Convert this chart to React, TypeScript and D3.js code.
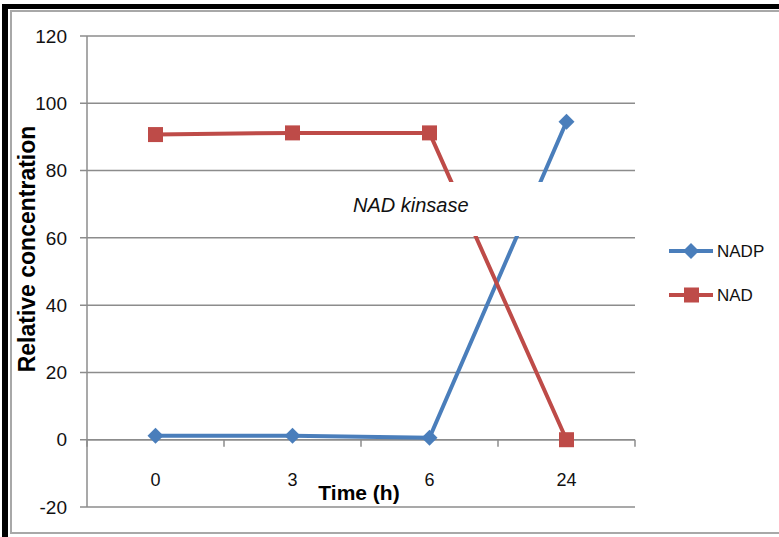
import React from "react";
import * as d3 from "d3";

const categories = ["0", "3", "6", "24"];
const nadpValues = [1.2, 1.2, 0.6, 94.5];
const nadValues = [90.7, 91.2, 91.2, 0];
const yTicks = [-20, 0, 20, 40, 60, 80, 100, 120];
const seriesNames = ["NADP", "NAD"];

const W = 779;
const H = 537;
const plot = { left: 87, right: 635, top: 36, bottom: 507 };
const BLUE = "#4A7EBB";
const RED = "#BE4B48";
const GRID = "#8c8c8c";
const FONT = "'Liberation Sans', Arial, sans-serif";

export default function App() {
  const x = d3
    .scaleBand<string>()
    .domain(categories)
    .range([plot.left, plot.right])
    .paddingInner(0)
    .paddingOuter(0);
  const y = d3.scaleLinear().domain([-20, 120]).range([plot.bottom, plot.top]);
  const cx = (c: string) => (x(c) ?? 0) + x.bandwidth() / 2;

  const line = d3
    .line<[string, number]>()
    .x((d) => cx(d[0]))
    .y((d) => y(d[1]));

  const nadpPts: [string, number][] = categories.map((c, i) => [c, nadpValues[i]]);
  const nadPts: [string, number][] = categories.map((c, i) => [c, nadValues[i]]);

  const diamond = (px: number, py: number, r: number) =>
    `M${px},${py - r}L${px + r},${py}L${px},${py + r}L${px - r},${py}Z`;

  const tickXs = [...categories.map((c) => x(c) ?? 0), plot.right];

  const legendY = [251, 295];

  return (
    <div style={{ position: "fixed", left: 0, top: 0 }}>
      <svg width={W} height={H} style={{ display: "block", background: "#fff" }}>
        {/* frame */}
        <rect x={0} y={0} width={W} height={H} fill="#fff" />
        <rect x={2} y={4} width={6} height={H} fill="#000" />
        <rect x={2} y={4} width={W} height={5} fill="#000" />
        <rect x={11} y={11} width={W} height={522} fill="none" stroke="#a8a8a8" strokeWidth={2} />

        {/* horizontal gridlines and y ticks */}
        {yTicks.map((t) => (
          <g key={t}>
            <line x1={80} x2={plot.right} y1={y(t)} y2={y(t)} stroke={GRID} strokeWidth={1.5} />
            <text
              x={67}
              y={y(t)}
              dy="0.35em"
              textAnchor="end"
              fontFamily={FONT}
              fontSize={19}
              fill="#111"
            >
              {t}
            </text>
          </g>
        ))}

        {/* y axis line */}
        <line x1={plot.left} x2={plot.left} y1={plot.top} y2={plot.bottom} stroke={GRID} strokeWidth={1.5} />

        {/* x axis at zero with tick marks */}
        <line x1={plot.left} x2={plot.right} y1={y(0)} y2={y(0)} stroke={GRID} strokeWidth={1.5} />
        {tickXs.map((tx, i) => (
          <line key={i} x1={tx} x2={tx} y1={y(0)} y2={y(0) + 7} stroke={GRID} strokeWidth={1.5} />
        ))}
        {categories.map((c) => (
          <text
            key={c}
            x={cx(c)}
            y={486}
            textAnchor="middle"
            fontFamily={FONT}
            fontSize={18}
            fill="#111"
          >
            {c}
          </text>
        ))}

        {/* series */}
        <path d={line(nadpPts) ?? ""} fill="none" stroke={BLUE} strokeWidth={4} strokeLinejoin="round" />
        <path d={line(nadPts) ?? ""} fill="none" stroke={RED} strokeWidth={4} strokeLinejoin="round" />
        {nadpPts.map((d, i) => (
          <path key={`b${i}`} d={diamond(cx(d[0]), y(d[1]), 8)} fill={BLUE} />
        ))}
        {nadPts.map((d, i) => (
          <rect key={`r${i}`} x={cx(d[0]) - 7.5} y={y(d[1]) - 7.5} width={15} height={15} fill={RED} />
        ))}

        {/* annotation */}
        <rect x={333} y={182} width={212} height={54} fill="#fff" />
        <text x={353} y={212} fontFamily={FONT} fontSize={20} fontStyle="italic" fill="#111">
          NAD kinsase
        </text>

        {/* axis titles */}
        <text
          transform={`translate(35,${249}) rotate(-90)`}
          textAnchor="middle"
          fontFamily={FONT}
          fontWeight="bold"
          fontSize={23}
          fill="#000"
        >
          Relative concentration
        </text>
        <text x={359} y={500} textAnchor="middle" fontFamily={FONT} fontWeight="bold" fontSize={21} fill="#000">
          Time (h)
        </text>

        {/* legend */}
        {seriesNames.map((name, i) => {
          const ly = legendY[i];
          const color = i === 0 ? BLUE : RED;
          return (
            <g key={name}>
              <line x1={669} x2={713} y1={ly} y2={ly} stroke={color} strokeWidth={4} />
              {i === 0 ? (
                <path d={diamond(691, ly, 8)} fill={color} />
              ) : (
                <rect x={684} y={ly - 7.5} width={15} height={15} fill={color} />
              )}
              <text x={717} y={ly} dy="0.35em" fontFamily={FONT} fontSize={17} fill="#111">
                {name}
              </text>
            </g>
          );
        })}
      </svg>
    </div>
  );
}
